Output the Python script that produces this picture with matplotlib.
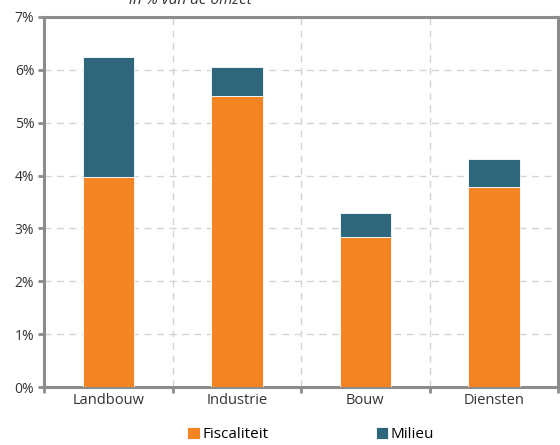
import matplotlib

matplotlib.use("Agg")
import matplotlib.pyplot as plt  # noqa: E402
import numpy as np  # noqa: E402
from matplotlib.ticker import FixedLocator, PercentFormatter  # noqa: E402

sectors = ["Landbouw", "Industrie", "Bouw", "Diensten"]
fiscaliteit = [3.98, 5.50, 2.83, 3.79]
milieu = [2.26, 0.55, 0.46, 0.53]

ORANGE = "#f58423"
TEAL = "#2e667c"
GREY = "#8c8c8c"

plt.rcParams["font.family"] = ["Open Sans", "DejaVu Sans"]

fig = plt.figure(figsize=(5.6, 4.45), dpi=100)
ax = fig.add_axes([0.0786, 0.130, 0.918, 0.832])

x = np.arange(len(sectors))
ax.bar(x, fiscaliteit, width=0.4, color=ORANGE, edgecolor="white", linewidth=0.6,
       label="Fiscaliteit", zorder=3)
ax.bar(x, milieu, bottom=fiscaliteit, width=0.4, color=TEAL, edgecolor="white",
       linewidth=0.6, label="Milieu", zorder=3)

ax.set_xlim(-0.5, len(sectors) - 0.5)
ax.set_ylim(0, 7)
ax.set_yticks(range(0, 8))
ax.yaxis.set_major_formatter(PercentFormatter(decimals=0))
ax.set_xticks(x)
ax.set_xticklabels(sectors)
ax.xaxis.set_minor_locator(FixedLocator(np.arange(-0.5, len(sectors), 1.0)))

ax.tick_params(axis="x", which="major", length=0, pad=4, labelsize=10.5, colors="#333333")
ax.tick_params(axis="x", which="minor", length=4, width=2, color=GREY, direction="out")
ax.tick_params(axis="y", length=4, width=2, color=GREY, labelsize=10,
               labelcolor="#333333", pad=3)

ax.grid(axis="y", which="major", linestyle=(0, (5, 4)), color="#d4d4d4", linewidth=1, zorder=0)
ax.grid(axis="x", which="minor", linestyle=(0, (5, 4)), color="#d4d4d4", linewidth=1, zorder=0)
for s in ax.spines.values():
    s.set_color(GREY)
    s.set_linewidth(2.2)

fig.text(0.34, 0.991, "in % van de omzet", ha="center", va="baseline",
         style="italic", fontsize=11, color="#333333")

fig.legend(loc="lower center", bbox_to_anchor=(0.555, -0.014), ncol=2, frameon=False,
           fontsize=11, handlelength=0.8, handleheight=0.8, handletextpad=0.2,
           columnspacing=7.0, borderaxespad=0.2)

fig.savefig("out.png", dpi=100)
